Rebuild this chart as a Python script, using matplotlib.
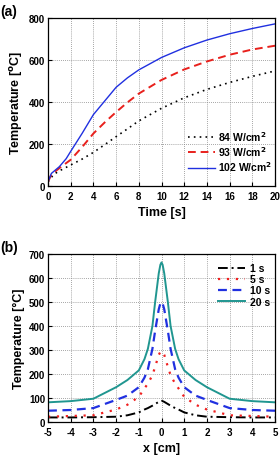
import matplotlib
matplotlib.use('Agg')
import matplotlib.pyplot as plt

plt.rcParams['font.family'] = ['Liberation Sans', 'DejaVu Sans']
plt.rcParams['font.weight'] = 'bold'
plt.rcParams['axes.unicode_minus'] = False

# panel (a): temperature vs time
t_84 = [0, 0.5, 1, 2, 3, 4, 5, 6, 7, 8, 10, 12, 14, 16, 18, 20]
T_84 = [20, 55, 72, 100, 128, 160, 197, 235, 272, 310, 370, 420, 460, 493, 522, 548]
t_93 = [0, 0.3, 1, 2, 3, 4, 5, 6, 7, 8, 10, 12, 14, 16, 18, 20]
T_93 = [20, 55, 85, 125, 185, 250, 303, 352, 398, 440, 505, 555, 593, 625, 650, 668]
t_102 = [0, 0.3, 1, 1.6, 2, 3, 4, 5, 6, 7, 8, 10, 12, 14, 16, 18, 20]
T_102 = [20, 60, 92, 130, 165, 250, 340, 405, 470, 515, 553, 612, 658, 695, 725, 750, 772]

# panel (b): temperature profile along x (left half, mirrored)
x_half = [-5, -4, -3, -2, -1.5, -1, -0.75, -0.6, -0.4, -0.28, -0.12, -0.05, 0]
T1_half = [19, 19, 20, 22, 28, 40, 52, 58, 68, 75, 84, 87, 88]
T5_half = [22, 25, 28, 52, 72, 105, 140, 160, 195, 230, 280, 292, 295]
T10_half = [47, 50, 58, 92, 110, 145, 185, 220, 305, 380, 470, 494, 500]
T20_half = [82, 87, 97, 145, 175, 215, 262, 305, 400, 500, 620, 655, 665]

x_b = x_half + [-v for v in x_half[-2::-1]]
T_1s = T1_half + T1_half[-2::-1]
T_5s = T5_half + T5_half[-2::-1]
T_10s = T10_half + T10_half[-2::-1]
T_20s = T20_half + T20_half[-2::-1]

fig = plt.figure(figsize=(2.8, 4.6), dpi=100)
ax1 = fig.add_axes([48/280, 1-187/460, 227/280, 168/460])
ax2 = fig.add_axes([48/280, 1-423/460, 227/280, 168/460])

ax1.plot(t_84, T_84, color='black', linestyle=(0, (1, 2.5)), lw=1.2, label='84 W/cm$^\\mathbf{2}$')
ax1.plot(t_93, T_93, color='#e8201c', linestyle=(0, (4, 2.5)), lw=1.4, label='93 W/cm$^\\mathbf{2}$')
ax1.plot(t_102, T_102, color='#2030e0', linestyle='-', lw=1.0, label='102 W/cm$^\\mathbf{2}$')
ax1.set_xlim(0, 20)
ax1.set_ylim(0, 800)
ax1.set_xticks(range(0, 21, 2))
ax1.set_yticks(range(0, 801, 200))
ax1.set_xlabel('Time [s]', fontsize=9, fontweight='bold', labelpad=4)
ax1.set_ylabel('Temperature [$^\\mathbf{o}$C]', fontsize=9, fontweight='bold', labelpad=3)
ax1.legend(loc='lower right', frameon=False, fontsize=7.5, handlelength=2.6,
           handletextpad=0.3, labelspacing=0.15, bbox_to_anchor=(1.03, 0.02))
ax1.text(-0.21, 1.02, '(a)', transform=ax1.transAxes, fontsize=10, fontweight='bold')

ax2.plot(x_b, T_1s, color='black', linestyle=(0, (5, 2, 1, 2)), lw=1.4, label='1 s')
ax2.plot(x_b, T_5s, color='#f02020', linestyle=(0, (1, 3)), lw=1.6, label='5 s')
ax2.plot(x_b, T_10s, color='#2030e0', linestyle=(0, (4, 2.5)), lw=1.6, label='10 s')
ax2.plot(x_b, T_20s, color='#209690', linestyle='-', lw=1.4, label='20 s')
ax2.set_xlim(-5, 5)
ax2.set_ylim(0, 700)
ax2.set_xticks(range(-5, 6))
ax2.set_yticks(range(0, 701, 100))
ax2.set_xlabel('x [cm]', fontsize=9, fontweight='bold', labelpad=4)
ax2.set_ylabel('Temperature [°C]', fontsize=9, fontweight='bold', labelpad=3)
ax2.legend(loc='upper right', frameon=False, fontsize=7.5, handlelength=2.6,
           handletextpad=0.5, labelspacing=0.1, bbox_to_anchor=(1.02, 1.0))
ax2.text(-0.21, 1.02, '(b)', transform=ax2.transAxes, fontsize=10, fontweight='bold')

for ax in (ax1, ax2):
    ax.grid(True, color='#888888', linestyle=(0, (1, 1.5)), lw=0.6)
    ax.tick_params(direction='in', labelsize=7, length=3, width=0.8, pad=2)
    ax.tick_params(axis='x', pad=3.5)
    for lab in ax.get_xticklabels() + ax.get_yticklabels():
        lab.set_fontweight('bold')
    for sp in ax.spines.values():
        sp.set_linewidth(0.9)

fig.savefig('out.png', dpi=100)
